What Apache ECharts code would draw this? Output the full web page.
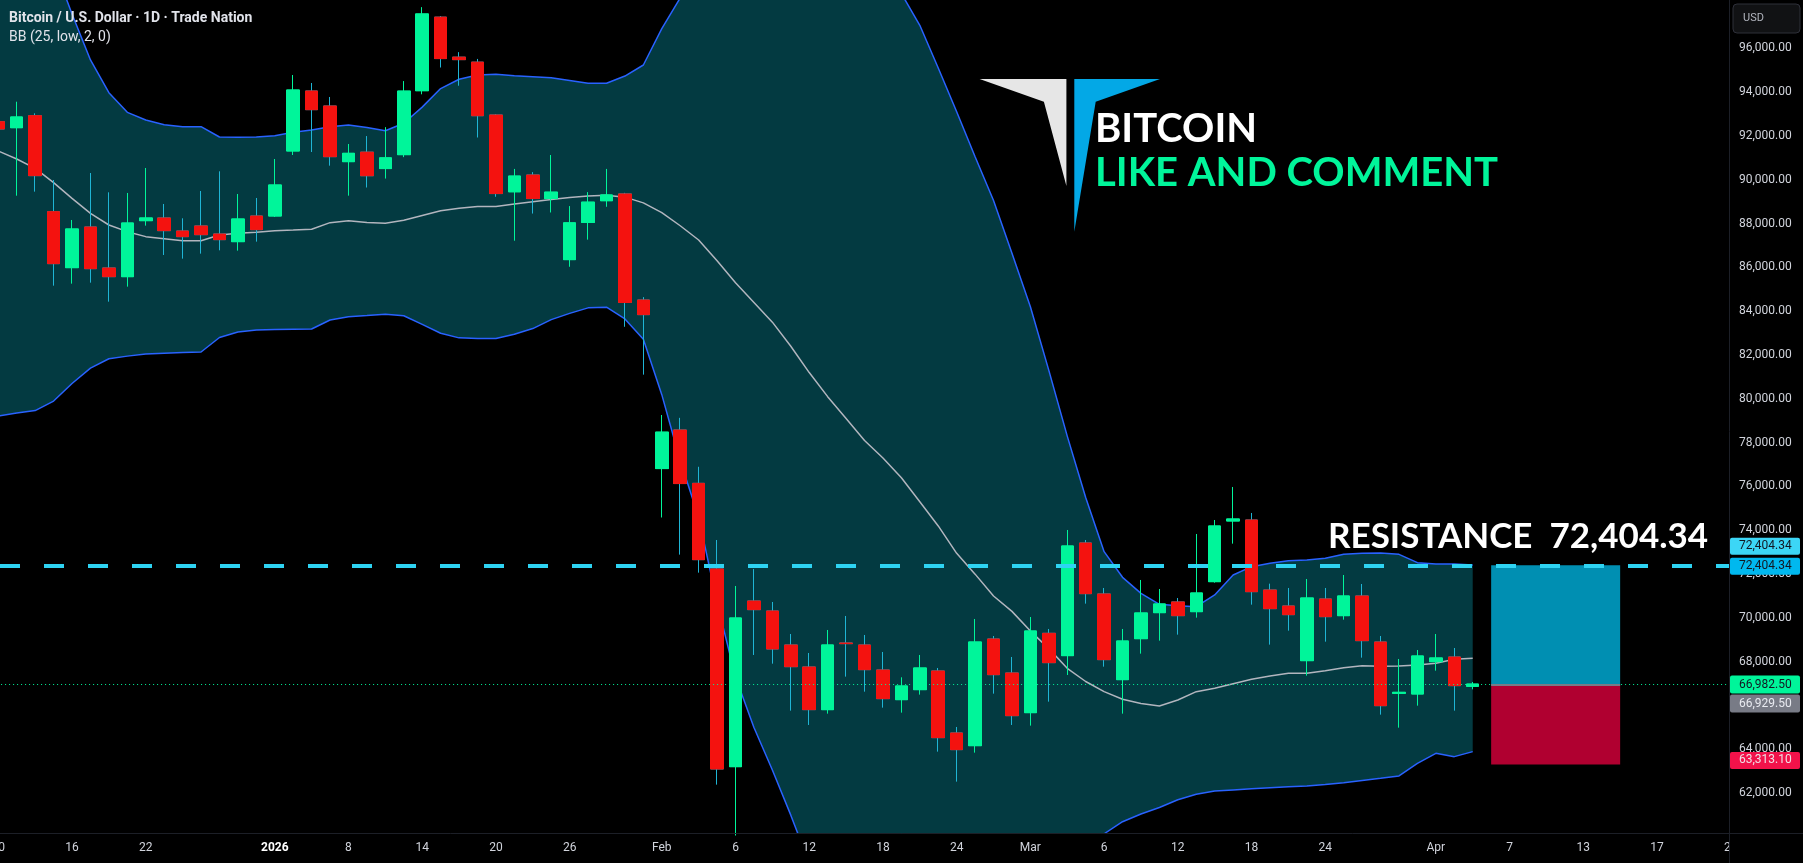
<!DOCTYPE html>
<html><head><meta charset="utf-8">
<script src="https://cdn.jsdelivr.net/npm/echarts@6/dist/echarts.min.js"></script>
<style>html,body{margin:0;padding:0;background:#000;overflow:hidden}#c{width:1803px;height:863px;}</style>
</head><body><div id="c"></div>
<script>
const categories = [
'2025-12-10','2025-12-11','2025-12-12','2025-12-15','2025-12-16','2025-12-17','2025-12-18','2025-12-19','2025-12-22','2025-12-23','2025-12-24','2025-12-26','2025-12-29','2025-12-30','2025-12-31',
'2026-01-02','2026-01-05','2026-01-06','2026-01-07','2026-01-08','2026-01-09','2026-01-12','2026-01-13','2026-01-14','2026-01-15','2026-01-16','2026-01-19','2026-01-20','2026-01-21','2026-01-22','2026-01-23','2026-01-26','2026-01-27','2026-01-28','2026-01-29','2026-01-30',
'2026-02-02','2026-02-03','2026-02-04','2026-02-05','2026-02-06','2026-02-09','2026-02-10','2026-02-11','2026-02-12','2026-02-13','2026-02-16','2026-02-17','2026-02-18','2026-02-19','2026-02-20','2026-02-23','2026-02-24','2026-02-25','2026-02-26','2026-02-27',
'2026-03-02','2026-03-03','2026-03-04','2026-03-05','2026-03-06','2026-03-09','2026-03-10','2026-03-11','2026-03-12','2026-03-13','2026-03-16','2026-03-17','2026-03-18','2026-03-19','2026-03-20','2026-03-23','2026-03-24','2026-03-25','2026-03-26','2026-03-27','2026-03-30','2026-03-31',
'2026-04-01','2026-04-02','2026-04-03','2026-04-06','2026-04-07','2026-04-08','2026-04-09','2026-04-10','2026-04-13','2026-04-14','2026-04-15','2026-04-16','2026-04-17','2026-04-20','2026-04-21','2026-04-22','2026-04-23'];

const opens  = [92650,92376,92925,88544,85988,87844,85973,85577,88133,88255,87661,87890,87524,87175,88346,88346,91313,94051,93366,90826,91260,90510,91146,94064,97422,95596,95368,92955,89451,90217,89141,86354,88049,89043,89353,84512,76818,78579,76144,72235,63213,70774,70318,68766,67762,65815,68857,68766,67625,66271,66728,67580,64750,64171,69040,67488,65678,69299,68280,73422,71094,67184,69055,70242,70729,70288,71657,74426,74471,71276,70546,68051,70866,70105,71002,68903,66560,66530,68006,68218,66880];
const closes = [92316,92864,90187,86171,87753,85942,85577,88026,88255,87677,87403,87494,87266,88209,87722,89761,94096,93199,91054,91206,90184,90999,94047,97568,95531,95482,92923,89369,90168,89141,89435,88033,88978,89304,84398,83844,78481,76134,72661,63107,69998,70379,68584,67777,65815,68766,68827,67640,66317,66895,67717,64537,63989,68903,67412,65541,69405,67960,73284,71109,68097,68948,70227,70637,70105,71139,74197,74517,71200,70425,70151,70911,70059,71002,68964,65997,66606,68264,68173,66910,66982.5];
const lows   = [91900,89272,89457,85166,85258,85303,84436,85121,87905,86566,86399,86627,86779,86764,87175,88300,91130,91267,90643,89274,89646,90054,91032,93900,95123,94292,91928,89223,87218,88457,88506,86028,87267,88766,83289,81105,74585,72890,72067,62392,60070,68310,67914,65769,65115,65632,67321,66636,65906,65678,66500,63898,62529,63852,66545,65115,65085,66180,67397,70653,67777,65632,68371,68964,69238,70014,71611,73391,70607,68782,69420,67367,68918,69922,68188,65587,64993,65997,67595,65769,66743];
const highs  = [92850,93562,93032,89989,88163,90308,89426,89396,90537,88894,88240,89487,90385,89350,89168,90947,94781,94416,93777,91632,91994,92401,94504,97878,97470,95824,95514,92988,90494,90348,91130,88799,89435,90494,89402,84642,79263,79133,76900,73558,71459,72235,70729,69268,68401,69451,70090,69223,68447,67291,68310,67717,65024,69953,69177,68219,70044,69497,74015,73558,71368,69497,71733,71322,70911,73832,74471,75977,74791,71565,71368,71778,71368,71961,71550,69177,68127,68538,69268,68629,67078];

const bbUpper = [103400,102500,101600,99800,97565,95466,93975,93077,92727,92514,92423,92423,91951,91936,91951,92012,92164,92271,92423,92499,92380,92238,92580,93314,94162,94585,94781,94814,94748,94700,94651,94530,94406,94406,94732,95237,96900,98300,100000,101800,103200,104000,104300,104200,103600,102600,101500,100300,99300,98500,97050,95100,93100,91050,89050,86650,84200,81300,78300,75500,73026,71855,71124,70622,70561,70516,71048,71961,72341,72493,72615,72646,72722,72904,72950,72965,72904,72524,72463,72463,72417];
const bbMid = [91312,90947,90522,89867,89152,88468,87935,87631,87403,87312,87220,87220,87479,87555,87601,87677,87707,87738,88042,88133,88050,88017,88147,88370,88587,88700,88783,88783,88890,88995,89100,89190,89255,89288,89206,88946,88500,87900,87250,86300,85300,84400,83500,82400,81200,80100,79100,78100,77300,76400,75300,74200,72950,72000,71000,70300,69400,68600,67701,67100,66636,66287,66100,65982,66256,66636,66788,67000,67199,67350,67473,67473,67595,67732,67823,67800,67808,67853,67930,68112,68158];
const bbLower = [79218,79350,79465,79900,80700,81400,81829,81950,82047,82080,82110,82139,82800,83050,83143,83160,83175,83189,83600,83750,83800,83860,83795,83400,82996,82784,82760,82752,82950,83208,83615,83900,84153,84186,83648,82719,80192,77177,74600,70700,67300,65000,63061,61000,58800,57600,56700,55900,55300,54300,53550,53300,52800,52950,52950,53950,54600,55900,57100,58700,60150,60700,61050,61350,61700,61950,62100,62150,62200,62250,62300,62330,62400,62480,62580,62681,62788,63366,63822,63670,63898];

const tickDates = ['2025-12-10','2025-12-16','2025-12-22','2026-01-02','2026-01-08','2026-01-14','2026-01-20','2026-01-26','2026-02-02','2026-02-06','2026-02-12','2026-02-18','2026-02-24','2026-03-02','2026-03-06','2026-03-12','2026-03-18','2026-03-24','2026-04-01','2026-04-07','2026-04-13','2026-04-17','2026-04-23'];
const tickTexts = ['10','16','22','2026','8','14','20','26','Feb','6','12','18','24','Mar','6','12','18','24','Apr','7','13','17','23'];

const resistance = 72404.34;
const lastPrice = 66982.5;
const entryPrice = 66929.5;
const stopPrice = 63313.1;
const posStart = '2026-04-06';
const posEnd = '2026-04-15';

const UP = '#00f59a', DOWN = '#f4120f', DOWN_WICK = '#1fb5d5';
const fmt = v => v.toLocaleString('en-US', {minimumFractionDigits: 2, maximumFractionDigits: 2});

const wickData = opens.map((o, i) => [o, closes[i], lows[i], highs[i]]);
const bodyData = opens.map((o, i) => [o, closes[i], Math.min(o, closes[i]), Math.max(o, closes[i])]);
const bandWidth = bbUpper.map((u, i) => u - bbLower[i]);

const chart = echarts.init(document.getElementById('c'), null, {renderer: 'canvas'});
const BAND = 18.43;
const option = {
  backgroundColor: '#000000',
  animation: false,
  grid: {left: -10.9, top: 0, width: BAND * categories.length, height: 833, containLabel: false, outerBoundsMode: 'none'},
  xAxis: {
    type: 'category', data: categories, boundaryGap: true, z: 1,
    axisLine: {show: false}, axisTick: {show: false}, splitLine: {show: false},
    axisLabel: {
      interval: (i, v) => tickDates.indexOf(v) >= 0,
      margin: 9, color: '#d1d4dc', fontSize: 12, fontFamily: 'Roboto',
      formatter: v => { const t = tickTexts[tickDates.indexOf(v)]; return t === '2026' ? '{b|2026}' : t; },
      rich: {b: {fontWeight: 'bold', color: '#ffffff', fontSize: 12, fontFamily: 'Roboto'}}
    }
  },
  yAxis: {
    type: 'value', position: 'right', offset: -11, min: 60185, max: 98204,
    splitNumber: 19, minInterval: 2000, maxInterval: 2000, scale: true,
    axisLine: {show: false}, axisTick: {show: false}, splitLine: {show: false},
    axisLabel: {
      margin: 10, color: '#d1d4dc', fontSize: 12, fontFamily: 'Roboto', align: 'left',
      formatter: v => (Math.abs(v % 2000) < 1e-6 && v >= 62000 && v <= 96000) ? fmt(v) : ''
    }
  },
  series: [
    {type: 'line', name: 'bbBase', data: bbLower, stack: 'bb', symbol: 'none', silent: true, z: 1,
     lineStyle: {opacity: 0}},
    {type: 'line', name: 'bbFill', data: bandWidth, stack: 'bb', symbol: 'none', silent: true, z: 1,
     lineStyle: {opacity: 0}, areaStyle: {color: '#033a41', opacity: 1}},
    {type: 'line', name: 'upper', data: bbUpper, symbol: 'none', silent: true, z: 2,
     lineStyle: {color: '#2962ff', width: 1.5}},
    {type: 'line', name: 'lower', data: bbLower, symbol: 'none', silent: true, z: 2,
     lineStyle: {color: '#2962ff', width: 1.5}},
    {type: 'line', name: 'basis', data: bbMid, symbol: 'none', silent: true, z: 2,
     lineStyle: {color: '#b2b5be', width: 1.5},
     markLine: {silent: true, symbol: ['none', 'none'], label: {show: false},
       lineStyle: {color: UP, width: 1, type: [1, 3]}, data: [{yAxis: lastPrice}]}},
    {type: 'candlestick', name: 'wicks', data: wickData, barWidth: 13, z: 3, silent: true,
     itemStyle: {color: UP, color0: DOWN, borderColor: UP, borderColor0: DOWN_WICK, borderWidth: 1},
     markArea: {silent: true, data: [
       [{coord: [posStart, resistance], itemStyle: {color: '#008fb2'}}, {coord: [posEnd, entryPrice]}],
       [{coord: [posStart, entryPrice], itemStyle: {color: '#b00030'}}, {coord: [posEnd, stopPrice]}]
     ]},
     markLine: {silent: true, symbol: ['none', 'none'], label: {show: false},
       lineStyle: {color: '#787b86', width: 2, type: 'solid'},
       data: [[{coord: [posStart, entryPrice]}, {coord: [posEnd, entryPrice]}]]}},
    {type: 'candlestick', name: 'bodies', data: bodyData, barWidth: 13, z: 4, silent: true,
     itemStyle: {color: UP, color0: DOWN, borderColor: UP, borderColor0: DOWN, borderWidth: 1},
     markLine: {silent: true, symbol: ['none', 'none'], label: {show: false},
       lineStyle: {color: '#2ed3f2', width: 4, type: [20, 24], dashOffset: 33.1},
       data: [{yAxis: resistance}]}}
  ]
};
chart.setOption(option);

const yRes = chart.convertToPixel({yAxisIndex: 0}, resistance);
const yLast = chart.convertToPixel({yAxisIndex: 0}, lastPrice);
const yStop = chart.convertToPixel({yAxisIndex: 0}, stopPrice);

const priceTags = [
  {y: yRes - 19, h: 17, bg: '#3cd6f6', fg: '#131722', t: fmt(resistance)},
  {y: yRes + 1, h: 17, bg: '#00b8ef', fg: '#131722', t: fmt(resistance)},
  {y: yLast + 0.5, h: 18, bg: UP, fg: '#131722', t: fmt(lastPrice)},
  {y: yLast + 19.5, h: 18, bg: '#787b86', fg: '#e8eaf0', t: fmt(entryPrice)},
  {y: yStop - 4, h: 17, bg: '#f2124a', fg: '#f0e0e6', t: fmt(stopPrice)}
];

const g = [
  {type: 'rect', z: 50, shape: {x: 1730, y: 834, width: 73, height: 29}, style: {fill: '#000'}},
  {type: 'line', z: 51, shape: {x1: 1729.5, y1: 0, x2: 1729.5, y2: 863}, style: {stroke: '#1c1f27', lineWidth: 1}},
  {type: 'line', z: 51, shape: {x1: 0, y1: 833.5, x2: 1803, y2: 833.5}, style: {stroke: '#1c1f27', lineWidth: 1}},
  {type: 'rect', z: 52, shape: {x: 1733, y: 4, width: 67, height: 29, r: 4}, style: {fill: '#111214', stroke: '#2e3039', lineWidth: 1}},
  {type: 'text', z: 53, x: 1743, y: 18.5, style: {text: 'USD', fill: '#b2b5be', font: '11px Roboto', textVerticalAlign: 'middle'}},
  {type: 'text', z: 53, x: 9, y: 18, style: {text: 'Bitcoin / U.S. Dollar · 1D · Trade Nation', fill: '#e1e3ea', font: 'bold 14px Roboto', textVerticalAlign: 'middle'}},
  {type: 'text', z: 53, x: 9, y: 37, style: {text: 'BB (25, low, 2, 0)', fill: '#e1e3ea', font: '14px Roboto', textVerticalAlign: 'middle'}},
  {type: 'polygon', z: 53, shape: {points: [[979.6, 79], [1066.4, 79], [1066.4, 186], [1043.9, 101.7]]}, style: {fill: '#e6e6e6'}},
  {type: 'polygon', z: 53, shape: {points: [[1074.3, 79], [1160, 79], [1095.7, 101.7], [1074.3, 231.7]]}, style: {fill: '#03a8e6'}},
  {type: 'text', z: 53, x: 1095, y: 129, style: {text: 'BITCOIN', fill: '#ffffff', font: 'bold 40px Lato', textVerticalAlign: 'middle'}},
  {type: 'text', z: 53, x: 1095, y: 173, style: {text: 'LIKE AND COMMENT', fill: '#00f59a', font: 'bold 40px Lato', textVerticalAlign: 'middle'}},
  {type: 'text', z: 53, x: 1328, y: 536.5, style: {text: 'RESISTANCE  72,404.34', fill: '#ffffff', font: 'bold 35px Lato', textVerticalAlign: 'middle'}}
];
priceTags.forEach(p => {
  g.push({type: 'rect', z: 60, shape: {x: 1730, y: p.y - p.h / 2, width: 70, height: p.h, r: 2}, style: {fill: p.bg}});
  g.push({type: 'text', z: 61, x: 1739, y: p.y, style: {text: p.t, fill: p.fg, font: '12px Roboto', textVerticalAlign: 'middle'}});
});
chart.setOption({graphic: g});
</script>
</body></html>
